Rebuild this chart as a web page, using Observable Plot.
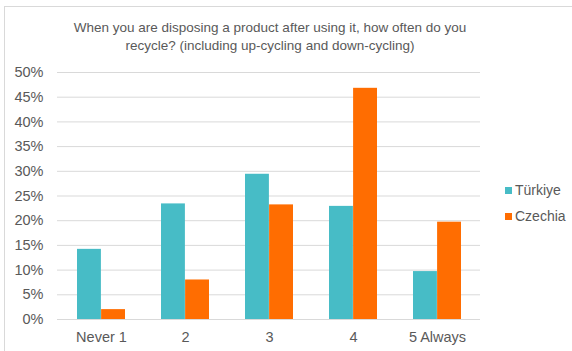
<!DOCTYPE html>
<html>
<head>
<meta charset="utf-8">
<script src="https://cdn.jsdelivr.net/npm/d3@7"></script>
<script src="https://cdn.jsdelivr.net/npm/@observablehq/plot@0.6"></script>
<style>
  html, body { margin: 0; padding: 0; background: #fff; }
  #wrap { position: relative; width: 572px; height: 351px; overflow: hidden; font-family: "Liberation Sans", Arial, sans-serif; }
  #frame { position: absolute; left: 4px; top: 6px; width: 580px; height: 360px; border: 1px solid #d9d9d9; box-sizing: border-box; }
  #title { position: absolute; left: 0; top: 19px; width: 540px; text-align: center; font-size: 13.5px; line-height: 18px; color: #595959; }
  #legend { position: absolute; left: 505px; top: 177px; font-size: 14px; color: #595959; }
  #legend div { display: flex; align-items: center; height: 26px; }
  #legend span.sw { display: inline-block; width: 7px; height: 7px; margin-right: 3px; }
  svg { position: absolute; left: 0; top: 0; }
</style>
</head>
<body>
<div id="wrap">
  <div id="frame"></div>
  <div id="chart"></div>
  <div id="title">When you are disposing a product after using it, how often do you<br>recycle? (including up-cycling and down-cycling)</div>
  <div id="legend"></div>
</div>
<script>
const categories = ["Never 1", "2", "3", "4", "5 Always"];
const seriesNames = ["Türkiye", "Czechia"];
const turkiye = [0.142, 0.234, 0.294, 0.229, 0.097];
const czechia = [0.020, 0.080, 0.232, 0.468, 0.197];
const yTicks = [0, 0.05, 0.10, 0.15, 0.20, 0.25, 0.30, 0.35, 0.40, 0.45, 0.50];
const colors = ["#47BCC6", "#FF6D01"];

const dataT = categories.map((c, i) => ({category: c, value: turkiye[i]}));
const dataC = categories.map((c, i) => ({category: c, value: czechia[i]}));
const half = 24.1;

const chart = Plot.plot({
  width: 572,
  height: 351,
  marginLeft: 57,
  marginRight: 92,
  marginTop: 72,
  marginBottom: 32,
  style: {fontFamily: "'Liberation Sans', Arial, sans-serif", fontSize: "14.5px", color: "#595959", background: "transparent"},
  x: {domain: categories, paddingInner: 0.43, paddingOuter: 0.215, label: null, tickSize: 0, tickPadding: 12},
  y: {domain: [0, 0.5], ticks: yTicks, tickFormat: d => Math.round(d * 100) + "%", label: null, tickSize: 0, tickPadding: 14},
  marks: [
    Plot.ruleY(yTicks, {stroke: "#d9d9d9", strokeWidth: 1}),
    Plot.barY(dataT, {x: "category", y: "value", fill: colors[0], insetRight: half}),
    Plot.barY(dataC, {x: "category", y: "value", fill: colors[1], insetLeft: half})
  ]
});
document.getElementById("chart").appendChild(chart);

const legend = document.getElementById("legend");
seriesNames.forEach((n, i) => {
  const row = document.createElement("div");
  row.innerHTML = `<span class="sw" style="background:${colors[i]}"></span>${n}`;
  legend.appendChild(row);
});
</script>
</body>
</html>
